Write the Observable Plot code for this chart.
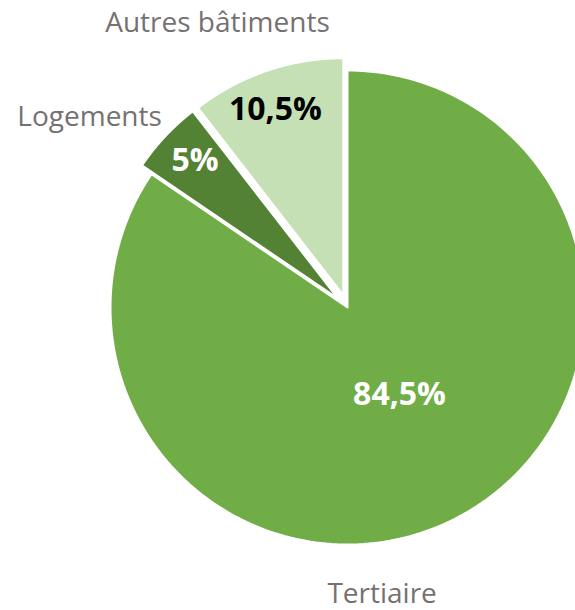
<!DOCTYPE html>
<html>
<head>
<meta charset="utf-8">
<script src="https://cdn.jsdelivr.net/npm/d3@7"></script>
<script src="https://cdn.jsdelivr.net/npm/@observablehq/plot@0.6"></script>
<style>
  html, body { margin: 0; padding: 0; background: #fff; overflow: hidden; }
  #chart { width: 575px; height: 610px; }
</style>
</head>
<body>
<div id="chart"></div>
<script>
// ---- data ----
const categories = ["Tertiaire", "Logements", "Autres bâtiments"];
const shares = [84.5, 5, 10.5];
const shareLabels = ["84,5%", "5%", "10,5%"];

// ---- style / layout ----
const palette = ["#70AD47", "#548235", "#C5E0B4"];
const valueColors = ["#ffffff", "#ffffff", "#000000"];
const explode = [0, 13, 13];                 // px, radial offset
const innerLayout = [[-2.8, 0.43], [0.8, 0.839], [-1.2, 0.834]];   // [angle delta deg, radius fraction]
const outerLayout = [[21, 1.216], [-6.8, 1.352], [-5.7, 1.318]];

const W = 575, H = 610, R = 237, CX = 347, CY = 307;

const data = categories.map((name, i) => ({name, share: shares[i], label: shareLabels[i], i}));
const arcs = d3.pie().sort(null).value(d => d.share)(data);

const polys = [];
const innerLabels = [];
const outerLabels = [];
const rad = Math.PI / 180;
arcs.forEach(a => {
  const i = a.data.i;
  const mid = (a.startAngle + a.endAngle) / 2;
  const e = explode[i] / R;
  const ox = e * Math.sin(mid), oy = e * Math.cos(mid);
  const pts = [{x: ox, y: oy}];
  const n = 240;
  for (let k = 0; k <= n; k++) {
    const t = a.startAngle + (a.endAngle - a.startAngle) * k / n;
    pts.push({x: ox + Math.sin(t), y: oy + Math.cos(t)});
  }
  pts.push({x: ox, y: oy});
  polys.push({pts, color: palette[i]});
  const ia = mid + innerLayout[i][0] * rad, ir = innerLayout[i][1];
  innerLabels.push({x: ox + ir * Math.sin(ia), y: oy + ir * Math.cos(ia), text: a.data.label, color: valueColors[i]});
  const oa = mid + outerLayout[i][0] * rad, orr = outerLayout[i][1];
  outerLabels.push({x: orr * Math.sin(oa), y: orr * Math.cos(oa), text: a.data.name});
});

const chart = Plot.plot({
  width: W,
  height: H,
  margin: 0,
  style: {fontFamily: "'Open Sans', sans-serif", background: "#fff"},
  x: {axis: null, domain: [-CX / R, (W - CX) / R]},
  y: {axis: null, domain: [-(H - CY) / R, CY / R]},
  marks: [
    ...polys.map(p => Plot.line(p.pts, {
      x: "x", y: "y", fill: p.color, stroke: "white", strokeWidth: 2,
      strokeLinejoin: "miter", curve: "linear", clip: true
    })),
    Plot.text(innerLabels, {
      x: "x", y: "y", text: "text", fill: d => d.color,
      fontSize: 32, fontWeight: "bold", fontFamily: "'Open Sans', sans-serif",
      textAnchor: "middle", lineAnchor: "middle"
    }),
    Plot.text(outerLabels, {
      x: "x", y: "y", text: "text", fill: "#767171",
      fontSize: 28, fontFamily: "'Open Sans', sans-serif",
      textAnchor: "middle", lineAnchor: "middle"
    })
  ]
});
document.getElementById("chart").appendChild(chart);
</script>
</body>
</html>
